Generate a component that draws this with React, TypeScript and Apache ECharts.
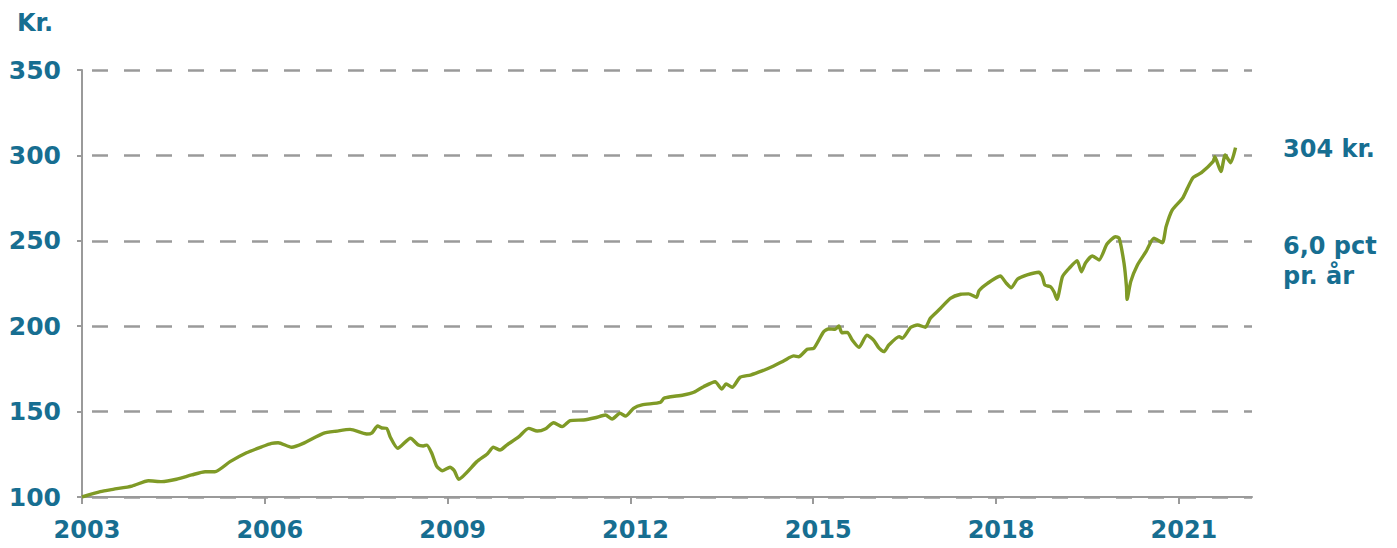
import React, { useEffect, useRef } from "react";
import * as echarts from "echarts";

// Decimal year of each observation
const dates: number[] = [
  2003.0, 2003.3, 2003.51, 2003.82, 2004.09, 2004.31, 2004.55, 2004.8, 2005.02, 2005.18,
  2005.43, 2005.7, 2005.95, 2006.11, 2006.22, 2006.44, 2006.63, 2006.96, 2007.18, 2007.4,
  2007.67, 2007.76, 2007.85, 2007.92, 2008.0, 2008.06, 2008.18, 2008.39, 2008.52, 2008.6,
  2008.66, 2008.74, 2008.82, 2008.91, 2009.04, 2009.11, 2009.18, 2009.48, 2009.65, 2009.75,
  2009.86, 2009.97, 2010.16, 2010.33, 2010.47, 2010.6, 2010.74, 2010.88, 2011.01, 2011.23,
  2011.42, 2011.59, 2011.7, 2011.83, 2011.92, 2012.05, 2012.19, 2012.49, 2012.55, 2012.66,
  2012.87, 2013.04, 2013.2, 2013.39, 2013.5, 2013.57, 2013.67, 2013.8, 2013.97, 2014.16,
  2014.35, 2014.52, 2014.68, 2014.76, 2014.9, 2015.01, 2015.17, 2015.25, 2015.36, 2015.42,
  2015.47, 2015.56, 2015.64, 2015.75, 2015.88, 2015.99, 2016.08, 2016.16, 2016.24, 2016.41,
  2016.46, 2016.6, 2016.71, 2016.84, 2016.92, 2017.09, 2017.25, 2017.42, 2017.55, 2017.68,
  2017.72, 2017.86, 2018.07, 2018.16, 2018.25, 2018.35, 2018.51, 2018.7, 2018.76, 2018.8,
  2018.89, 2018.95, 2019.0, 2019.09, 2019.2, 2019.33, 2019.4, 2019.47, 2019.58, 2019.69,
  2019.82, 2019.96, 2020.02, 2020.1, 2020.14, 2020.15, 2020.21, 2020.32, 2020.46, 2020.59,
  2020.73, 2020.79, 2020.89, 2021.06, 2021.14, 2021.23, 2021.37, 2021.56, 2021.59, 2021.69,
  2021.76, 2021.85, 2021.93,
];

// Value in kr. (index 100 at start of 2003)
const values: number[] = [
  100.0, 103.1, 104.5, 106.4, 109.5, 109.0, 110.4, 112.9, 114.8, 114.8,
  120.7, 125.9, 129.4, 131.4, 131.8, 129.1, 131.4, 137.3, 138.6, 139.6,
  136.9, 137.6, 141.6, 140.4, 140.2, 135.0, 128.5, 134.4, 130.4, 129.9,
  130.4, 125.6, 118.1, 115.4, 117.4, 115.4, 110.4, 120.7, 125.2, 129.1,
  127.5, 130.4, 135.0, 140.2, 138.6, 139.8, 143.5, 141.2, 144.7, 145.1,
  146.4, 148.0, 145.7, 149.0, 147.4, 151.9, 153.9, 155.4, 157.8, 158.7,
  159.7, 161.3, 164.6, 167.5, 163.2, 166.2, 164.2, 170.1, 171.4, 173.8,
  176.7, 179.8, 182.6, 182.1, 186.5, 187.1, 196.8, 198.4, 198.2, 200.1,
  196.2, 196.4, 191.9, 187.6, 194.8, 191.9, 187.1, 185.1, 189.0, 193.9,
  192.9, 199.4, 200.7, 199.4, 204.6, 210.5, 216.3, 218.7, 218.9, 216.9,
  220.8, 225.1, 229.4, 225.5, 222.5, 227.5, 230.0, 231.6, 229.0, 224.1,
  223.1, 220.2, 215.7, 229.0, 233.9, 238.3, 231.9, 237.2, 241.1, 238.8,
  248.1, 252.4, 251.5, 236.8, 223.1, 215.7, 226.1, 235.8, 243.6, 251.5,
  248.9, 258.3, 268.0, 274.9, 280.7, 286.9, 289.9, 296.3, 299.2, 290.5,
  300.2, 295.7, 304.5,
];

const xTickYears: number[] = [2003, 2006, 2009, 2012, 2015, 2018, 2021];
const yTicks: number[] = [100, 150, 200, 250, 300, 350];

const yUnit = "Kr.";
const endLabel = "304 kr.";
const growthLabel1 = "6,0 pct";
const growthLabel2 = "pr. år";

const TEAL = "#176e91";
const GREEN = "#7f9a26";
const GRAY = "#9a9a9a";
const FONT = "DejaVu Sans";

export default function App() {
  const ref = useRef<HTMLDivElement>(null);

  useEffect(() => {
    if (!ref.current) return;
    const chart = echarts.init(ref.current, undefined, { renderer: "svg" });
    const seriesData = dates.map((d, i) => [d, values[i]]);
    chart.setOption({
      animation: false,
      backgroundColor: "#ffffff",
      grid: { left: 82, right: 145, top: 70, bottom: 51, containLabel: false },
      xAxis: {
        type: "value",
        min: 2003,
        max: 2022.2,
        interval: 3,
        axisLine: { show: true, lineStyle: { color: GRAY, width: 2 } },
        axisTick: {
          show: true,
          length: 7,
          lineStyle: { color: GRAY, width: 2 },
          customValues: xTickYears,
        },
        axisLabel: {
          customValues: xTickYears,
          formatter: (v: number) => String(v),
          color: TEAL,
          fontFamily: FONT,
          fontWeight: "bold",
          fontSize: 24,
          margin: 21,
          padding: [0, 0, 0, 10],
        },
        splitLine: { show: false },
      },
      yAxis: {
        type: "value",
        min: yTicks[0],
        max: yTicks[yTicks.length - 1],
        interval: 50,
        axisLine: { show: true, lineStyle: { color: GRAY, width: 2 } },
        axisTick: { show: true, length: 5, lineStyle: { color: GRAY, width: 2 } },
        axisLabel: {
          color: TEAL,
          fontFamily: FONT,
          fontWeight: "bold",
          fontSize: 25,
          margin: 21,
        },
        splitLine: {
          show: true,
          lineStyle: { color: GRAY, width: 2.5, type: [16, 16], dashOffset: 22 },
        },
      },
      series: [
        {
          type: "line",
          data: seriesData,
          showSymbol: false,
          smooth: 0.2,
          lineStyle: { color: GREEN, width: 3.4 },
          z: 5,
        },
      ],
      graphic: [
        {
          type: "text",
          left: 17,
          top: 11,
          style: { text: yUnit, fill: TEAL, font: `bold 24px "${FONT}"` },
        },
        {
          type: "text",
          x: 1283,
          y: 149,
          style: { text: endLabel, fill: TEAL, font: `bold 24px "${FONT}"`, verticalAlign: "middle" },
        },
        {
          type: "text",
          x: 1283,
          y: 246,
          style: { text: growthLabel1, fill: TEAL, font: `bold 24px "${FONT}"`, verticalAlign: "middle" },
        },
        {
          type: "text",
          x: 1283,
          y: 276,
          style: { text: growthLabel2, fill: TEAL, font: `bold 24px "${FONT}"`, verticalAlign: "middle" },
        },
      ],
    });
    return () => chart.dispose();
  }, []);

  return (
    <div
      ref={ref}
      style={{ position: "fixed", left: 0, top: 0, width: 1397, height: 548, background: "#fff" }}
    />
  );
}
